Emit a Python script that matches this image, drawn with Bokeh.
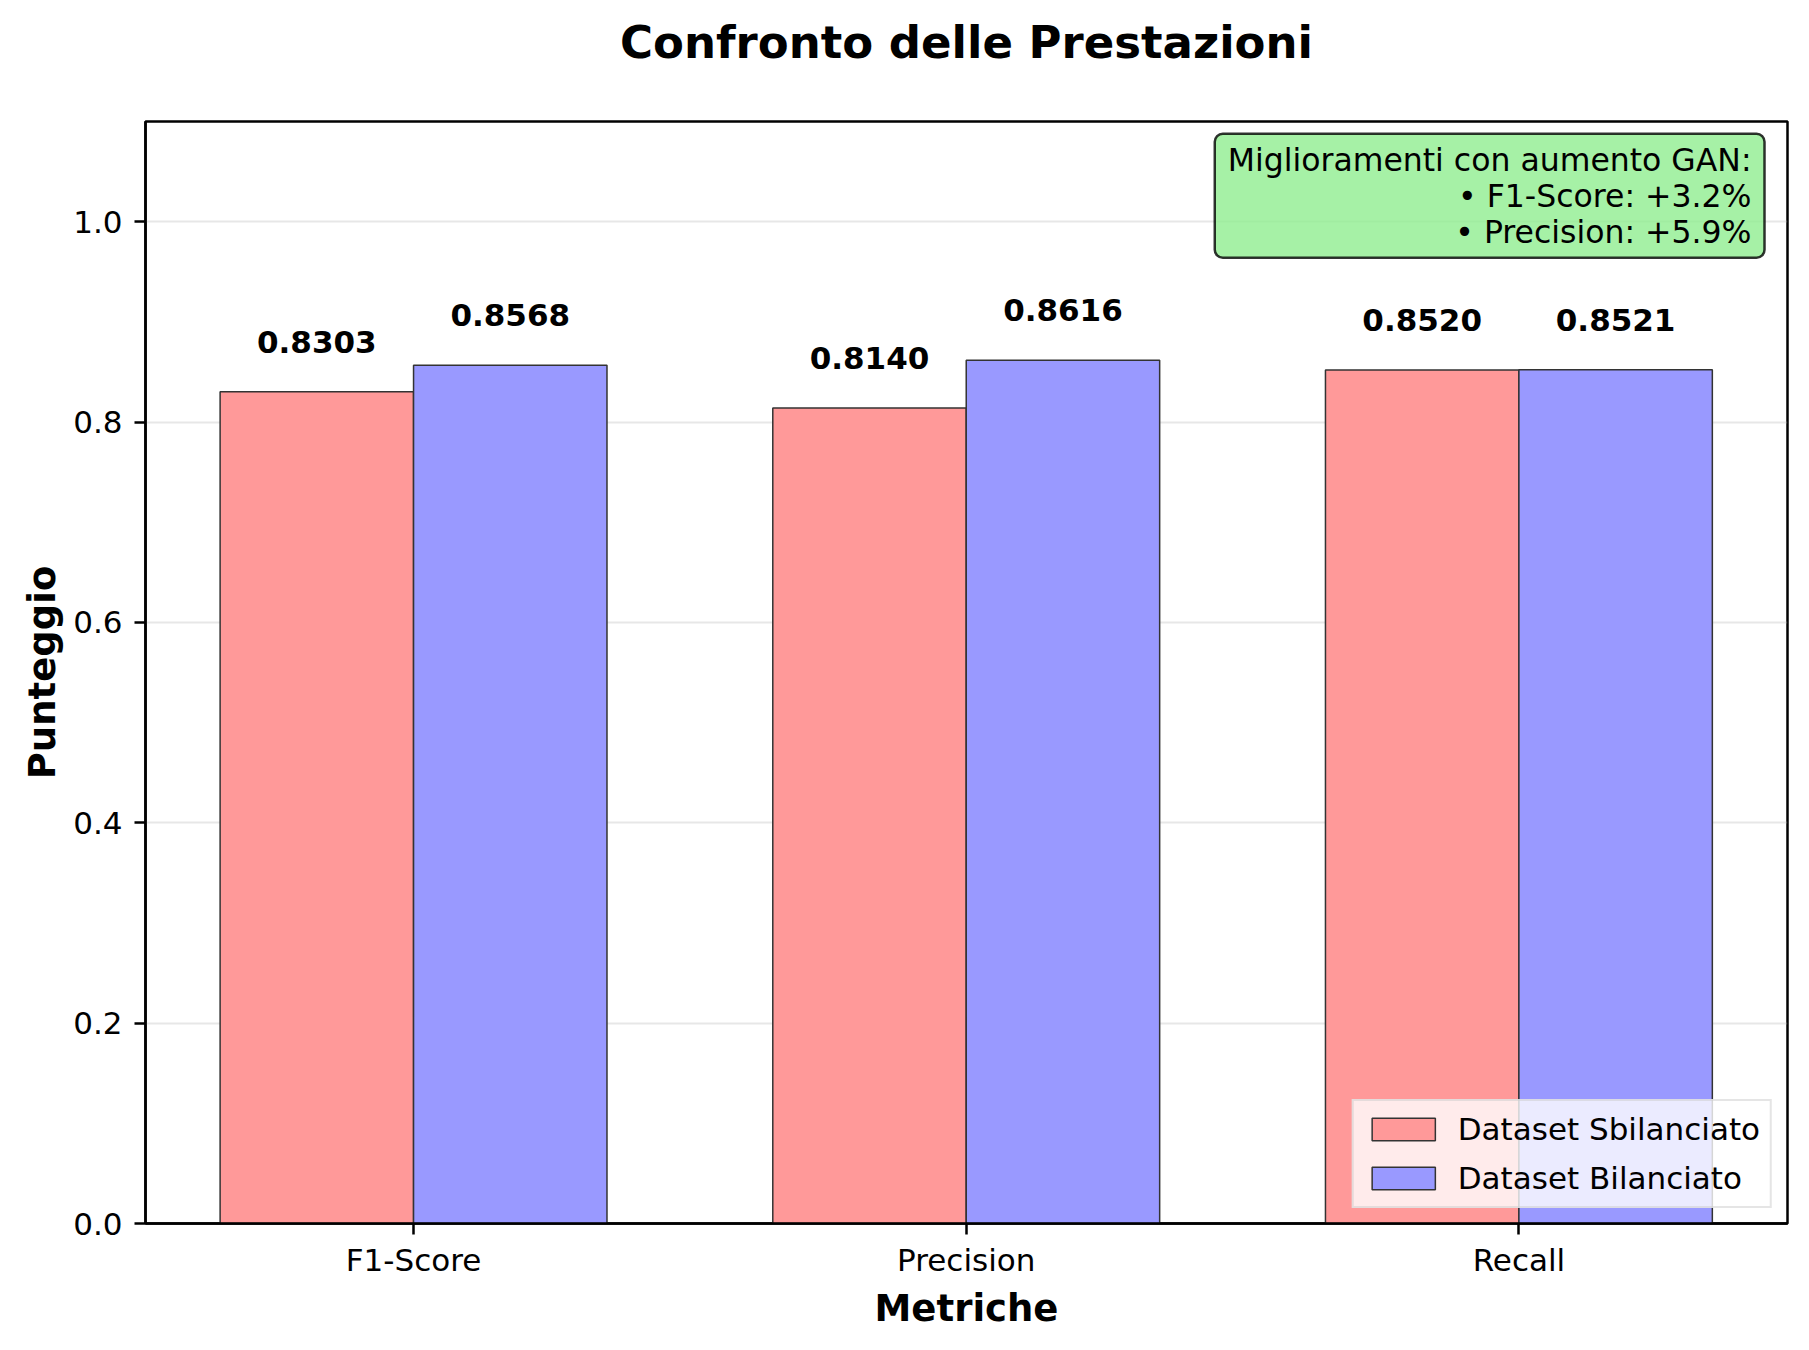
import numpy as np
from bokeh.plotting import figure
from bokeh.models import Range1d, FixedTicker, Label, Legend, LegendItem, PrintfTickFormatter
from bokeh.core.properties import value
from bokeh.embed import file_html
from bokeh.resources import INLINE

# ---- data ----
categories = ["F1-Score", "Precision", "Recall"]
unbalanced = [0.8303, 0.8140, 0.8520]
balanced = [0.8568, 0.8616, 0.8521]
y_ticks = [0.0, 0.2, 0.4, 0.6, 0.8, 1.0]
series_names = ["Dataset Sbilanciato", "Dataset Bilanciato"]
title_text = "Confronto delle Prestazioni"
note_lines = ["Miglioramenti con aumento GAN:", "• F1-Score: +3.2%", "• Precision: +5.9%"]

FONT = "DejaVu Sans"
x = np.arange(len(categories))
w = 0.35
X0, X1, Y0, Y1 = -0.485, 2.486, 0.0, 1.1

p = figure(frame_width=1642, frame_height=1102,
           x_range=Range1d(X0, X1), y_range=Range1d(Y0, Y1),
           output_backend="svg", toolbar_location=None,
           min_border_left=145, min_border_right=12, min_border_top=121, min_border_bottom=100)

p.background_fill_color = "white"
p.border_fill_color = "white"
p.outline_line_color = "black"
p.outline_line_width = 2.5

# title (a blank second line lifts it away from the frame)
p.title.text = title_text + "\n "
p.title.align = "center"
p.title.text_font = FONT
p.title.text_font_size = "45px"
p.title.text_font_style = "bold"
p.title.text_color = "black"
p.title.text_line_height = 1.0
p.title.standoff = 0

# grid
p.xgrid.visible = False
p.ygrid.ticker = FixedTicker(ticks=y_ticks)
p.ygrid.grid_line_color = "#b0b0b0"
p.ygrid.grid_line_alpha = 0.3
p.ygrid.grid_line_width = 2

# bars
r1 = p.vbar(x=x - w / 2, top=unbalanced, width=w, bottom=0,
            fill_color="#ff9999", line_color="#333333", line_width=1.5)
r2 = p.vbar(x=x + w / 2, top=balanced, width=w, bottom=0,
            fill_color="#9999ff", line_color="#333333", line_width=1.5)

# value labels
for xs, vals in ((x - w / 2, unbalanced), (x + w / 2, balanced)):
    p.text(x=xs, y=vals, text=[f"{v:.4f}" for v in vals],
           text_align="center", text_baseline="alphabetic", y_offset=-50,
           text_font=value(FONT), text_font_style="bold", text_font_size="31px",
           text_color="black")

# axes
for ax in (p.xaxis[0], p.yaxis[0]):
    ax.axis_line_width = 2.5
    ax.axis_line_color = "black"
    ax.major_tick_line_width = 2.5
    ax.major_tick_out = 11
    ax.major_tick_in = 0
    ax.minor_tick_line_color = None
    ax.major_label_text_font = FONT
    ax.major_label_text_font_size = "31px"
    ax.major_label_text_color = "black"
    ax.axis_label_text_font = FONT
    ax.axis_label_text_font_size = "37px"
    ax.axis_label_text_font_style = "bold"
    ax.axis_label_text_color = "black"

p.xaxis.ticker = FixedTicker(ticks=list(x))
p.xaxis.major_label_overrides = {int(i): c for i, c in zip(x, categories)}
p.xaxis.major_label_standoff = 7
p.xaxis.axis_label = "Metriche"
p.xaxis.axis_label_standoff = 6

p.yaxis.ticker = FixedTicker(ticks=y_ticks)
p.yaxis.formatter = PrintfTickFormatter(format="%.1f")
p.yaxis.major_label_standoff = 12
p.yaxis.axis_label = "Punteggio"
p.yaxis.axis_label_standoff = 6

# legend
legend = Legend(items=[LegendItem(label=series_names[0], renderers=[r1]),
                       LegendItem(label=series_names[1], renderers=[r2])],
                location="bottom_right")
legend.margin = 15
legend.padding = 10
legend.spacing = 13
legend.label_height = 36
legend.glyph_height = 28
legend.glyph_width = 79
legend.label_standoff = 15
legend.label_text_font = FONT
legend.label_text_font_size = "31px"
legend.label_text_color = "black"
legend.background_fill_color = "white"
legend.background_fill_alpha = 0.8
legend.border_line_color = "#cccccc"
legend.border_line_width = 2
p.add_layout(legend)

# annotation box
note = Label(x=2.4444, y=1.0877, text="\n".join(note_lines),
             text_align="right", text_baseline="top",
             text_font=FONT, text_font_size="31.5px", text_color="black",
             text_line_height=1.0,
             background_fill_color="#90ee90", background_fill_alpha=0.8,
             border_line_color="black", border_line_alpha=0.8, border_line_width=2.5,
             border_radius=8, padding=dict(left=13, right=13, top=8, bottom=8))
p.add_layout(note)

open("out.html", "w").write(file_html(p, INLINE))
